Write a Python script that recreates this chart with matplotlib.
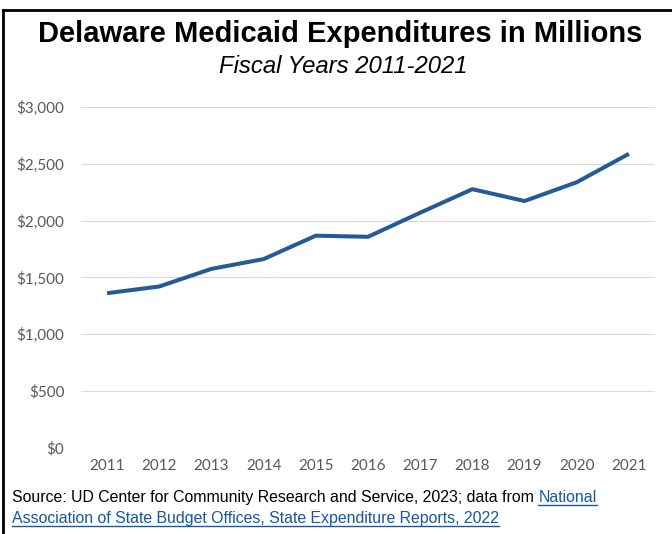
import matplotlib
matplotlib.use("Agg")
import matplotlib.pyplot as plt
from matplotlib.lines import Line2D

years = ["2011", "2012", "2013", "2014", "2015", "2016",
         "2017", "2018", "2019", "2020", "2021"]
spending = [1362, 1421, 1576, 1662, 1868, 1858, 2070, 2277, 2173, 2338, 2588]
y_ticks = [0, 500, 1000, 1500, 2000, 2500, 3000]
y_labels = ["$0", "$500", "$1,000", "$1,500", "$2,000", "$2,500", "$3,000"]

title = "Delaware Medicaid Expenditures in Millions"
subtitle = "Fiscal Years 2011-2021"
source_plain = "Source: UD Center for Community Research and Service, 2023; data from "
source_link1 = "National"
source_link2 = "Association of State Budget Offices, State Expenditure Reports, 2022"

W, H, DPI = 672, 534, 100
fig = plt.figure(figsize=(W / DPI, H / DPI), dpi=DPI)
fig.patch.set_facecolor("white")

def fx(px):
    return px / W

def fy(py):
    return 1 - py / H

# plot area
ax = fig.add_axes([fx(81), fy(448), fx(655) - fx(81), fy(107) - fy(448)])
x = list(range(len(years)))
ax.plot(x, spending, color="#235b95", lw=2.9, solid_capstyle="butt",
        solid_joinstyle="round", zorder=3)
ax.set_xlim(-0.5, len(years) - 0.5)
ax.set_ylim(0, 3000)
ax.set_yticks(y_ticks)
ax.set_yticklabels(y_labels)
ax.set_xticks(x)
ax.set_xticklabels(years)
ax.grid(axis="y", color="#d9d9d9", lw=0.8)
ax.set_axisbelow(True)
for s in ax.spines.values():
    s.set_visible(False)
ax.tick_params(axis="both", length=0, labelsize=11, labelcolor="#595959")
ax.tick_params(axis="y", pad=12)
ax.tick_params(axis="x", pad=8)
for lab in ax.get_xticklabels() + ax.get_yticklabels():
    lab.set_fontfamily("Lato")

# titles
fig.text(fx(340), fy(42), title, ha="center", va="baseline",
         fontsize=21, fontweight="bold", family="Liberation Sans")
fig.text(fx(343), fy(72.5), subtitle, ha="center", va="baseline",
         fontsize=17.2, style="italic", family="Liberation Sans")

# source note with linked text
link_color = "#1558a8"
src_kw = dict(fontsize=11.45, family="Liberation Sans", va="baseline")
t1 = fig.text(fx(12), fy(502), source_plain, color="black", **src_kw)
fig.canvas.draw()
r = fig.canvas.get_renderer()
bb = t1.get_window_extent(renderer=r)
x_link = bb.x1 / W
t2 = fig.text(x_link, fy(502), source_link1, color=link_color, **src_kw)
t3 = fig.text(fx(12), fy(523), source_link2, color=link_color, **src_kw)
fig.canvas.draw()
for t, base in ((t2, 502), (t3, 523)):
    b = t.get_window_extent(renderer=r)
    uy = fy(base + 2.5)
    fig.add_artist(Line2D([b.x0 / W, b.x1 / W], [uy, uy], color=link_color,
                          lw=1.0, transform=fig.transFigure))

# frame edges
fig.add_artist(Line2D([fx(3), 1.0], [fy(10), fy(10)], color="black", lw=2,
                      transform=fig.transFigure))
fig.add_artist(Line2D([fx(3), fx(3)], [fy(10), 0.0], color="black", lw=2,
                      transform=fig.transFigure))

fig.savefig("out.png", dpi=DPI, facecolor="white")
